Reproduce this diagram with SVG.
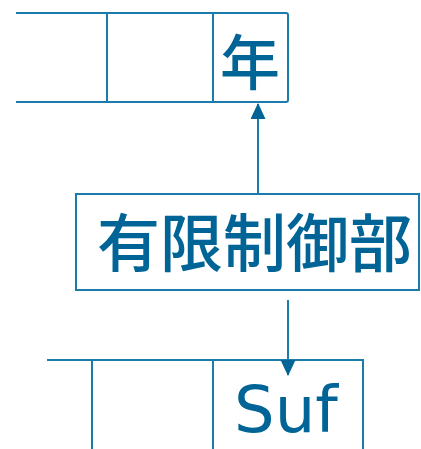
<svg xmlns="http://www.w3.org/2000/svg" width="421" height="449" viewBox="0 0 421 449">
<defs>
<style>
.ln{fill:none;stroke:#1b7bab;stroke-width:2}
.t{fill:#006596;font-family:"DejaVu Sans",sans-serif}
.c{fill:#006596;font-family:"Noto Sans CJK JP","Noto Sans CJK SC",sans-serif;font-weight:500}
</style>
<marker id="ah" markerWidth="16" markerHeight="16" refX="15" refY="7.5" orient="auto" markerUnits="userSpaceOnUse">
<path d="M0,0 L16,7.5 L0,15 Z" fill="#006596"/>
</marker>
</defs>
<g id="tape-top">
<path class="ln" d="M16,13 H286 Q288,13 288,15 V100 Q288,102 286,102 H16"/>
<line class="ln" x1="107" y1="13" x2="107" y2="102"/>
<line class="ln" x1="213" y1="13" x2="213" y2="102"/>
<text class="c" x="250" y="85" font-size="60" text-anchor="middle">年</text>
</g>
<g id="control">
<rect class="ln" x="76" y="194" width="343" height="96"/>
<text class="c" x="97" y="266" font-size="63">有限制御部</text>
</g>
<g id="tape-bottom">
<path class="ln" d="M47,360 H363 V449"/>
<line class="ln" x1="92" y1="360" x2="92" y2="449"/>
<line class="ln" x1="213" y1="360" x2="213" y2="449"/>
<text class="t" x="234" y="432" font-size="64">Suf</text>
</g>
<g id="connectors">
<line class="ln" x1="258" y1="193" x2="258" y2="104" marker-end="url(#ah)"/>
<line class="ln" x1="288" y1="300" x2="288" y2="375" marker-end="url(#ah)"/>
</g>
</svg>
